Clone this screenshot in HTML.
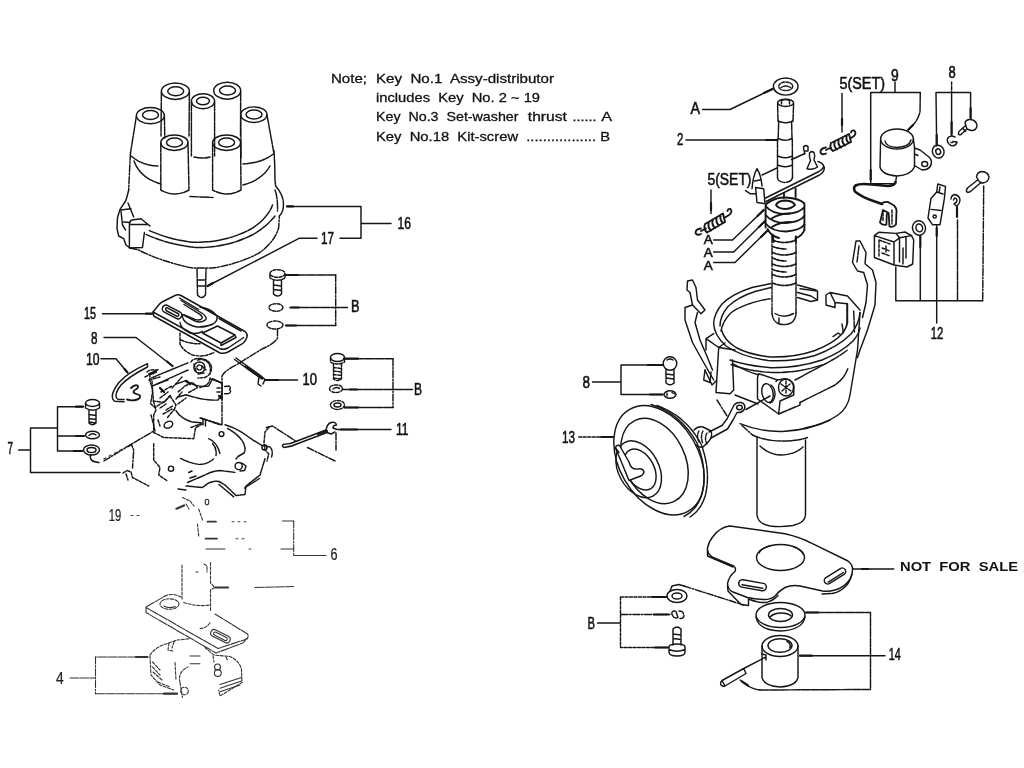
<!DOCTYPE html>
<html><head><meta charset="utf-8"><title>Distributor</title>
<style>
html,body{margin:0;padding:0;background:#fff;overflow:hidden}
svg{display:block;filter:grayscale(1)}
text{font-family:"Liberation Sans",sans-serif;fill:#111;stroke:none}
.d{stroke-dasharray:7 1.6 1.6 1.6}
.b{stroke-dasharray:9 1.2}
.s{stroke-dasharray:3 1.5}
.f{stroke-dasharray:2 4;stroke:#444}
.t{stroke-width:2.2}
.n text{font-size:16px;stroke:#111;stroke-width:.55px}
.nt text{stroke:#111;stroke-width:.3px}
.n2 text{stroke-width:.2px;fill:#222}
</style></head><body>
<svg width="1024" height="768" viewBox="0 0 1024 768">
<rect width="1024" height="768" fill="#fff"/>
<g style="font-size:13.5px;stroke:#111;stroke-width:.3px" class="nt">
<text x="331" y="83" textLength="36" lengthAdjust="spacingAndGlyphs">Note;</text>
<text x="376" y="83" textLength="178" lengthAdjust="spacingAndGlyphs" xml:space="preserve">Key  No.1  Assy-distributor</text>
<text x="376" y="102" textLength="164" lengthAdjust="spacingAndGlyphs" xml:space="preserve">includes  Key  No. 2 ~ 19</text>
<text x="376" y="121" textLength="142.5" lengthAdjust="spacingAndGlyphs" xml:space="preserve">Key  No.3  Set-washer</text>
<text x="527.8" y="121" textLength="39" lengthAdjust="spacingAndGlyphs">thrust</text>
<text x="572.5" y="121" textLength="24" lengthAdjust="spacingAndGlyphs">......</text>
<text x="601.2" y="121" textLength="10.8" lengthAdjust="spacingAndGlyphs">A</text>
<text x="376" y="140.5" textLength="234" lengthAdjust="spacingAndGlyphs" xml:space="preserve">Key  No.18  Kit-screw  ................. B</text>
</g>
<g fill="none" stroke="#161616" stroke-width="1.45" stroke-linecap="round" stroke-linejoin="round">
<!-- CAP 16 -->
<ellipse cx="175.4" cy="91.2" rx="14" ry="8.2"/><ellipse cx="175.7" cy="91.2" rx="8" ry="4.5"/>
<ellipse cx="203" cy="101.2" rx="11.6" ry="7.5"/><ellipse cx="203" cy="101" rx="6.5" ry="3.8"/>
<ellipse cx="227.2" cy="90.7" rx="13.5" ry="8.5"/><ellipse cx="227.5" cy="90.5" rx="8" ry="4.5"/>
<ellipse cx="150.4" cy="115.6" rx="14" ry="8.1"/><ellipse cx="150.5" cy="115" rx="8" ry="4.5"/>
<ellipse cx="253.9" cy="114.7" rx="13.1" ry="7.8"/><ellipse cx="254" cy="114.5" rx="8" ry="4.5"/>
<ellipse cx="174.4" cy="142.7" rx="13.6" ry="7.7"/><ellipse cx="174.5" cy="142.5" rx="8" ry="4.5"/>
<ellipse cx="226.6" cy="142.7" rx="14" ry="7.7"/><ellipse cx="226.6" cy="142.5" rx="8" ry="4.5"/>
<path class="b" d="M161.4 92L161 136M189.4 92L189 136M191.4 102L191.4 156M214.6 102L214.6 156M194 157Q203 159 210 157M240.7 92L240.5 136M136.4 116L130.5 153M164.4 116L164.8 138M240.8 118L241 158M267 115L273.7 152"/>
<path class="b" d="M160.8 143L160.8 190Q175 198 189 190L188 143M212.6 143L212.6 190Q227 198 241 190L240.6 143"/>
<path class="b" d="M131 156Q143 166 158 166M134 161Q140 178 161 184M273.7 153.7Q262 163 243 164M270 166Q262 180 243 185M190 196.5L213 197.5"/>
<path class="d" d="M130.5 153C129.500 170 129 182 128.700 190"/>
<path d="M128.700 190C127.500 195 126.500 199 125.600 201L120 209.400L117.500 217.500L117 228.700L118.700 236L123.700 238.700L126 245L130 248"/>
<path d="M120.600 210L131 208.700M128 203L133.700 217M121 211L122.500 225L125.600 230M123.700 222L130 222.500"/>
<path d="M129.400 223.700Q130 220.500 132 220L141 218.700L150 226M130 224.400L147.500 224.400M129.400 223.700L129.400 248M144.400 232.500L142.500 247.500M130 248L142.500 247.500"/>
<path d="M274 151C275 165 275 175 275 180L275.600 186C280 191 283.500 198 283.500 204C283.500 210 281.500 214 279.400 216"/>
<path class="b" d="M275 190C277 195 277.800 203 277.500 211"/>
<path class="b" d="M149.400 230.600C162 236 178 241.500 196 242.300C215 242.500 234 238 250 229.500C262 222.500 270 213 272.500 205"/>
<path class="b" d="M146 234.400C158 240 176 245.500 196 247.500C216 248 236 243.500 254 234C264 228 271 221 275 216"/>
<path class="d" d="M130 248L138.700 250C152 257 172 264 192.500 268L212.500 268C228 266 246 260 258 253.700C268 247 276 238 278.700 227.500L279.400 216"/>
<path class="b" d="M197 268.500L197.500 295Q201.500 300 205.500 295L206 268.500M197.500 280L205.500 280M197.500 286L205.500 286"/>
<!-- leaders 16/17 -->
<path d="M287 206.4L361 206.4L361 238.2L340 238.2M361 223.4L391 223.4M317 238.2L299.5 238.2L207.5 286"/>
<path class="t" d="M287 206.4L293 206.4M207.5 286L213 283"/>
</g><g class="n">
<text x="397.5" y="229" textLength="13.5" lengthAdjust="spacingAndGlyphs">16</text>
<text x="321" y="243.5" textLength="13" lengthAdjust="spacingAndGlyphs">17</text>
</g><g fill="none" stroke="#161616" stroke-width="1.45" stroke-linecap="round" stroke-linejoin="round">

<!-- ROTOR 15 -->
<path d="M153 312L158.7 305Q160 303 163 301.5L175 295.5Q178 294 181 295.5L245 331.5Q248 334 247 337Q246 341 242.5 343.7L228 352Q224 354 220 353L153.7 316Z"/>
<path d="M153 312L220 348.7Q224 350 228 348L243.700 337.500"/>
<path d="M179.500 298L198.700 309.500"/>
<g transform="rotate(28 172 312)"><rect x="161.500" y="308.300" width="21" height="7.400" rx="3.700"/><rect x="165" y="310.500" width="14.500" height="3" rx="1.500"/></g>
<path d="M182.500 314.400L195 321Q199 322.500 202.500 321.500Q207 320 206 317.500Q205 315 202.500 313.500L192.500 307.500L181 300.500"/>
<path d="M184.400 315L195 319.400Q199 320.500 201 319.400Q204 318 200 314.400L184 304.500"/>
<path d="M200 307Q212 309 217 316Q218 321 213 324Q206 327.500 197 327Q188 325.500 183.700 320Q182 317 182.500 315"/>
<path d="M180 322.500Q181 329 190 333Q197 334.500 202.500 331.500"/>
<path d="M202.500 333L217.500 326L235 335L221 343ZM221 343L221 345.500L236 337.500L235 335"/>
<path d="M219 318.500L241 331"/>
<path class="s" d="M180 333L180 343.700Q182 350 192.500 355Q200 356.500 205 355.600Q210 354.500 213.700 352.500M181 340Q190 344 200 343.700"/>
<!-- leader 15, 8, 10(left) -->
<path d="M102.5 313.7L152.5 313.7M104 337.5L136 337.5L172.5 366M101 358.7L116 358.7L127.5 372.5"/>
<path class="t" d="M146 313.7L152 313.7M167 361.5L172.5 366M124.5 369L127.5 372.5"/>
<!-- clip 10 -->
<path d="M147.500 363.700Q127 373 118.500 383Q112 392 112.300 396.500Q112.500 400.500 115 401.300L124 401.700M147.500 367Q129 376.500 121 385Q116 391.500 116 395.600Q116 398.500 118 399.400L124 399.500M147.500 363.700L147.500 367"/>
<path stroke-width="1.8" d="M127 399.500L131 400.300Q137 400.500 139.500 398Q141.500 395.500 138 394.500Q134 393.500 133.400 392Q134 390 136.500 389Q139 387 137.500 385.500Q134.500 384.500 131 388"/>
<!-- 7 group -->
<ellipse cx="92.5" cy="403" rx="7" ry="3.5"/>
<path d="M85.5 403.5L85.5 408Q92.5 412.5 99.5 408L99.5 403.5M89 410.5L89 423Q92.5 426.5 96 423L96 410.5M89 414.5L96 415.5M89 418.5L96 419.5M89 422L96 423"/>
<ellipse cx="92.5" cy="435" rx="7" ry="3.8"/><path d="M89 435.5Q92 432.5 96 435"/>
<ellipse cx="91.5" cy="450" rx="8" ry="5"/><ellipse cx="91.5" cy="450" rx="4.5" ry="2.5"/>
<path d="M82 406.7L57.5 406.7L57.5 451L82 451M57.5 436L83 436M57.5 428L30.5 428L30.5 472.5L120 472.5M18.7 450L30.5 450"/>
<path class="t" d="M76 406.7L83 406.7M76 436L84 436M74 451L82 451"/>
<path d="M90.5 455Q89 462 99 462.5"/><path class="d" d="M104 461L130 445L153 431.5"/>
<!-- B group 1 -->
<ellipse class="s" cx="277.5" cy="273.5" rx="7.5" ry="3.8"/>
<path class="b" d="M270 274L270 278Q277.5 282.5 285 278L285 274M273.5 280.5L273.5 294Q277.5 298 281.5 294L281.5 280.5M273.5 285L281.5 286M273.5 289.5L281.5 290.5"/>
<ellipse class="s" cx="276" cy="307.5" rx="7" ry="3.8"/>
<ellipse class="s" cx="275" cy="325" rx="8" ry="4"/>
<path class="b" d="M286 275L335.7 275M335.7 325.5L286 325.5M290 307.5L347.5 307.5"/><path class="d" d="M335.7 275L335.7 325.5"/>
<path class="t" d="M286 275L298 275M286 325.5L296 325.5M291 307.5L299 307.5"/>
<path class="d" d="M277.5 329L277.5 338Q274 344 262 349L237 364.5Q224 371 222 376L222 425"/>
<!-- wire 10 right -->
<path d="M234.5 359.5L259 377M236 358L260.5 375.5M259 377L258 384L261 386M260.5 375.5L265 379.5L263 384"/><path class="t" d="M246 367L262 378.5M265 380L278 380"/>
<path d="M266 380L297.5 380"/>
<!-- B group 2 -->
<ellipse cx="337.5" cy="357.5" rx="7" ry="4"/>
<path class="s" d="M330.5 358L330.5 362Q337.5 366 344.5 362L344.5 358M333.5 364L333.5 379Q337.5 382 341.5 379L341.5 364M333.5 367.5L341.5 368.5M333.5 371L341.5 372M333.5 374.5L341.5 375.5M333.5 378L341.5 379"/>
<ellipse class="s" cx="336" cy="388.7" rx="6.5" ry="3.8"/><path d="M333 389Q336 386.5 339.5 388.5"/>
<ellipse class="s" cx="337.5" cy="405" rx="7" ry="4.5"/><ellipse cx="337.5" cy="405" rx="3.5" ry="2"/>
<path class="b" d="M344 358.7L393 358.7M393 407.5L344 407.5M343 389.5L412.5 389.5"/><path class="d" d="M393 358.7L393 407.5"/>
<path class="t" d="M344 358.7L358 358.7M345 407.5L358 407.5M350 389.5L357 389.5"/>
<!-- 11 -->
<path d="M340 429.5L391 429.5M326 430L297 441Q290 444.500 283 444.500M327 432.500L298 443.500Q291 447 284 447.500Q281.500 446 283 444.500"/>
<path d="M326 430Q327 424 331 422.5Q336 421.5 336.5 425Q333 425 333 428L337 429.5L340 429.5M327 432.5L331 434L335 432"/>
<path class="t" d="M341 429.5L357 429.5M318 434L327 431"/>
<path class="d" d="M336 433L336 450M307.5 447.5L335 461"/>
</g><g class="n">
<text x="84" y="318.9" textLength="12" lengthAdjust="spacingAndGlyphs">15</text>
<text x="91" y="343.9" textLength="6.5" lengthAdjust="spacingAndGlyphs">8</text>
<text x="86" y="364.7" textLength="13.5" lengthAdjust="spacingAndGlyphs">10</text>
<text x="7.5" y="454" textLength="5.5" lengthAdjust="spacingAndGlyphs">7</text>
<text x="351" y="312.3" textLength="8.5" lengthAdjust="spacingAndGlyphs">B</text>
<text x="302.5" y="385.2" textLength="14.5" lengthAdjust="spacingAndGlyphs">10</text>
<text x="414" y="395.2" textLength="8" lengthAdjust="spacingAndGlyphs">B</text>
<text x="396" y="435.2" textLength="12.5" lengthAdjust="spacingAndGlyphs">11</text>
</g><g fill="none" stroke="#161616" stroke-width="1.45" stroke-linecap="round" stroke-linejoin="round">

<!-- BREAKER PLATE -->
<path class="b" d="M151.6 377.8L188 362.8M152.5 386L188 370"/>
<circle cx="199.4" cy="367.5" r="5.5"/><circle class="s" cx="199.4" cy="367.5" r="2.6"/>
<path class="s" d="M191 362Q193 358 201 358.5Q210 360 211.5 367Q212 374 205 377.5L198 378"/>
<path class="s" d="M148.7 374L157 370M149.7 374L150 381L152.5 389L153.4 401L164 402.5L170 395.6M149 380L160 377M157 384L168 380M161 392L172 386"/>
<path class="b" d="M186 380.6Q197 388 208.7 386Q211 382 212.5 378.7L222 383.4M186 394.7Q205 401 218 400L222 393.7M176 384L186 380.6M178 397L186 394.7"/>
<path d="M224.7 386.5L229 386Q231.5 387.5 229.5 389.5Q232 391.5 229 393.5L224.7 393.7"/>
<path class="s" d="M222 383L222 400M217 388L222 388M217 392L222 392"/>
<path class="s" d="M170 396L176 405L174 410.6M153.4 401L156 410L153.7 415L153.7 432.5L163.7 437.5L193.7 438.7L195.5 428L202.5 423.7"/>
<path class="b" d="M176 410.6Q180 418 192 422L201 422.8"/>
<path class="s" d="M160 408L166 404M163 414L172 409M158 420L160 426"/>
<ellipse cx="168.4" cy="424.7" rx="4.5" ry="3.2" transform="rotate(-25 168.4 424.7)"/>
<path class="d" d="M201 418L222 424.7"/>
<path d="M203 419L203 425M205.5 420L205.5 426"/>
<path class="b" d="M225 424.7Q236 428 245 434.5T263 446"/>
<path class="b" d="M227.5 428.4Q238 434 243 442Q246.5 449 244 453L238 456.5L236 459"/>
<circle cx="221.5" cy="434" r="2.4"/>
<path class="b" d="M208.7 438.7Q217 442 220 453.7M212.5 443.4Q217 448 216 455.6"/>
<path class="b" d="M180.6 458.4Q190 463.5 200 464.5Q208 464 213.5 459"/>
<path class="s" d="M153.7 443.7L153.7 460L160 467.5L158.7 475L167.5 481"/>
<circle cx="171" cy="468.7" r="2.6"/>
<circle cx="238.7" cy="466" r="3.6"/><path d="M242 463L246 466L244.5 470.5L240 471"/>
<path class="b" d="M187.5 482.5L205 475Q212 471 220 470.5L236 472.5"/>
<path class="b" d="M186 486L202.5 487.5L207.5 483.7Q213 480.5 219 481.5L225 485L236 495.5L245 494.5L246 486L260 475L265 458.7"/>
<path class="b" d="M188.7 472.5L192 471M178 489L186 490M190 478L196 476"/>
<path class="s" d="M268.7 427.5L265 432L264 442.5L265 450L268.7 453.7L267 461"/>
<circle cx="264.5" cy="447.5" r="2.5"/>
<path class="d" d="M266.5 427.5L272.5 426L295 440.6"/>
<path class="f" d="M104 459L128 446"/>
<path class="d" d="M128 446.5L131.5 444.5L133.7 450L132.5 468"/>
<path class="s" d="M123 473L127 470.5L131 472L132.5 477.5L148.7 486M126 474L128 480"/>
<path class="b" d="M219 484.500L234.500 497.500M244.500 488L259.500 478.500M266 447Q270 445.500 271.500 449Q273 453 271.500 457"/>
<!-- extra breaker detail -->
<path class="s" d="M145 377L151 373.700L158 369.500M147 372Q150 369 156 370M152 381L152.500 392.500L150.600 403.700L155 407.500L165 401L170 396M188.700 392.500L197.500 387.500L192.500 382.500L185 386L178 392M172 388L182 377M166 410L172.500 406M167.500 417.500L173.700 410M160 398L168 392M176 399L182 392M178 404L186 398"/>
<path class="s" d="M197.500 360Q203 358.500 207.500 362Q211.500 366 210 373.700M210 378Q210 385 200 387.500M211 379L221 382.500M194 364L196 371M202 366L206 370M198 374L204 373"/>
<path class="t s" d="M151 374L156 372M219 396L222 399M186 381L190 384M160 388L164 392"/>
<path class="s" d="M151 415L153 422.500L155 431M191 427.500L197.500 425L201 423.700M200 418L221 425"/>
<g stroke="#333" stroke-width="1.1"><!-- 19 region -->
<path class="t" d="M176.5 508.7L184 505.5"/>
<path class="s" d="M182.5 497.5L189 500.5M190 501L194 506M186 504L189 509"/><ellipse cx="207" cy="502" rx="1.8" ry="2.8"/>
<path class="s" d="M198.7 509L202.5 520M197.5 524L198.7 536"/>
<path class="f" d="M131 515.5L143 515.5"/>
<!-- 6 group -->
<path d="M282.5 521L293.7 521M293.7 555.5L326 555.5M281 549L293.7 549"/><path class="d" d="M293.7 521L293.7 555.5"/>
<path stroke-width="1.7" d="M207.5 521.7L216 521.7M205.5 538.7L217 538.7"/>
<path d="M206 549L225 549"/><path class="f" d="M232 521.7L248 521.7M236 538.7L244 538.7M249 549L254 549"/>
<path class="t" d="M215.5 587.5L228 587.5"/><path class="b" d="M255 587.5L293.7 586.5"/>
<!-- shaft + plate + weights 4 -->
<path class="s" d="M182 565L182 599M210.5 562.5L210.5 583L215 587.5L210.5 590L210.5 611M183.7 602.5Q197 607 210 605"/>
<path class="s" d="M204 564L207 566L207 572M196 572L198 572"/>
<path class="b" d="M146 607L165 596M215 614L247.5 634Q249 637 247 639L218 648.5L146 607.5M146 607L146 612.5L216 653L243 643L248 637"/>
<path class="s" d="M165 596Q170 593.5 176 595L181 597"/>
<ellipse class="s" cx="169.5" cy="604" rx="9.5" ry="5.2"/><path d="M164 606Q169 609 175 606.5"/>
<g transform="rotate(27 220 636)"><rect x="210" y="632.5" width="21" height="7" rx="3.5"/><rect x="213" y="634.5" width="15" height="3.2" rx="1.6"/></g>
<path class="s" d="M200 628.7Q207 628 210.5 622"/>
<path class="s" d="M150 655Q155 648 163 645L177.5 640L190 638.7M150 656L151 675L160 685L173.7 690M152.5 662L160 670M152.5 667L160 675M153 672L162 680M158 682L170 687"/>
<path class="s" d="M169 643L168 650L173 651M174 642L172 648"/>
<path class="s" d="M175 662.5L176 680M180 682.5Q178 676 183 670L188 667M180 682.5L182.5 697.5"/>
<path d="M190 656L200 656M190 663.7L200 663.7"/>
<circle class="s" cx="184.5" cy="691" r="3.8"/>
<path class="s" d="M205 647.5L213.7 655L230 656.5Q240 661 241.5 670L242 682.5L220 696L218.7 690"/>
<path d="M220 684.5L241.5 677.5M220 688.2L241.5 681M220 691.8L240 685"/>
<circle cx="217.5" cy="667" r="3"/><circle cx="217.8" cy="673" r="3.4"/>
<path class="s" d="M213 656L214 662M226 657L228 661"/>
<!-- 4 bracket -->
<path class="b" d="M147.5 657L95.5 657M95.5 693.7L177.5 693.7M70 678L95.5 678"/><path class="d" d="M95.5 657L95.5 693.7"/>
<path class="t" d="M136 657L147.5 657M164 693.7L177 693.7"/>
</g></g><g class="n n2">
<text x="108.7" y="521" textLength="12.5" lengthAdjust="spacingAndGlyphs">19</text>
<text x="330.5" y="560.2" textLength="7" lengthAdjust="spacingAndGlyphs">6</text>
<text x="56" y="683.9" textLength="7.7" lengthAdjust="spacingAndGlyphs">4</text>
</g><g fill="none" stroke="#161616" stroke-width="1.45" stroke-linecap="round" stroke-linejoin="round">

<!-- WASHER A top -->
<ellipse cx="785.7" cy="86.5" rx="12.300" ry="8.600"/><ellipse class="s" cx="785.7" cy="86.3" rx="7" ry="4.300"/><path d="M781 87.5Q785.7 84.5 790.5 87.5"/>
<path d="M702.5 109.5L730 109.5L772.5 89"/><path class="t" d="M764 93L772.5 89"/>
<!-- shaft 2 -->
<ellipse cx="785.6" cy="102.8" rx="8" ry="3.6"/><path d="M781.500 104L781.500 100.500Q785.500 98.500 789.500 100.500L789.500 104"/>
<path class="b" d="M777.600 103.700L778 120.500M793.600 103.700L793 120.500M778.700 121.500L778.200 138M791.600 121.500L792 138M777.500 139L777.500 178M792.300 139L792.500 178"/>
<path class="b" d="M778 121Q785.500 124.500 793 121M778.200 138.500Q785 142 792 138.500M777.500 156Q785 159.500 792.500 156M777.500 165Q785 168.500 792.500 165"/>
<path d="M686 140L777.5 140"/><path class="t" d="M766 140L777.5 140"/>
<!-- plate -->
<path d="M762 175L777 168M791.5 159.5L805 153.5M765.6 198L819 171.5Q824 168.5 823.5 165.5Q822 162.5 818 161.5M766 201.5L819.5 175Q824.5 172 824.4 167"/>
<path class="b" d="M777.5 178Q778 182 785 182.5Q791.5 182 792.5 177.5"/>
<path d="M752 188.7Q753 176 757 168.7Q761 175 762 186M754.5 181L760 180M755.6 187.5L763.7 188.7L765 203.7L757 202.5ZM745.6 190.6L750 193.7L755.5 193.7"/>
<path d="M809.5 153Q811.5 150.5 814 152.5Q815.5 156 814 160L817.5 167Q813 170.5 807 168.7L810.5 160.5Q809 157 809.5 153Z"/>
<path d="M803.5 147Q805.5 144.5 808 146.5L808 151L804 151ZM804.5 151L804.5 154"/>
<!-- 5(SET) top + spring -->
<path d="M842 93.5L842 132"/><path class="t" d="M842 119L842 125"/>
<path stroke-width="1.8" d="M826 147.5Q820 148.5 820.5 152.5Q822 155.5 826 153.5"/>
<path stroke-width="1.9" d="M831 143Q829 148 833 151M835 141Q833 146.5 837 149.5M839 139Q837 144 841 147.5M843 137Q841 142 845 145.5M847 135Q845 140 849 143M831 143L849 134M833 151L851 142M826 150L831 147.5M849 134L851 142"/>
<path stroke-width="1.8" d="M851 138L854 136Q857 133 854 130.5Q851.5 130 851 132.5"/>
<!-- 5(SET) lower + spring -->
<path d="M711 190L711 213.5"/><path class="t" d="M711 203L711 210"/>
<path stroke-width="1.8" d="M701 228.5Q695.5 229 695.5 233Q697 236 701 234"/>
<path stroke-width="1.9" d="M705 224Q703 229 707 232.5M709 222Q707 227 711 230.5M713 219.5Q711 224.5 715 228M717 217Q715 222 719 225.5M721 214.5Q719 219.5 723 223M705 224L723 213.5M707 232.5L725 222M701 231L706 228.5M723 213.5L725 222"/>
<path stroke-width="1.8" d="M725 217.5L729 215Q733 212 730.5 209Q728 208.5 727.5 211"/>
<!-- A leaders -->
<path d="M713.7 240L732.5 240L763.7 210M713.7 252L733.7 252L765 221M713.7 262.5L735 262.5L767 231"/>
<path class="t" d="M757.5 216L763.7 210M759 227L765 221M761 237L767 231"/>
<!-- cam -->
<path stroke-width="1.9" d="M784 193.7L784 198M795.6 188.7L795.6 197"/>
<path stroke-width="1.9" d="M771 201Q778 197 786 197.5Q800 198.5 804.4 203.5L804.4 230M765.6 206L765.6 227.5M771 201Q766 203 765.6 206Q772 214 786 214Q800 213 804.4 207"/>
<path stroke-width="1.9" d="M776 205Q778 200.5 786 200.5Q793 201 795 205Q791 209 785 209Q778 208.5 776 205"/>
<path stroke-width="1.9" d="M765.6 215Q772 223 786 223Q800 222 804.4 216M765.6 223.5Q772 231.5 786 231.5Q800 230.5 804.4 224.5M767.5 229Q771 236 779 238M804.4 230Q802 236 796 238"/>
<path stroke-width="1.9" d="M771.5 218.5Q779 213.5 790 213.5M772 227Q779 222 791 222"/>
<path stroke-width="1.9" d="M772.5 235L773.7 242M795.6 237L795.8 242"/>
<!-- lower shaft with rings -->
<path class="d" d="M772 236L772 314"/><path class="b" d="M796 236L796 313"/>
<path class="s" stroke-width="1.7" d="M772.500 240Q784 245 796 240M772.500 252.500Q784 257.500 796 252.500M772.500 264Q784 269 796 264M772.500 274.500Q784 279.500 796 274.500M772.500 283Q784 288 796 283M772.500 246.500Q779 249 786 249M772.500 258Q779 261 786 261M772.500 269.500Q779 272 786 272"/>
<path d="M772 314Q773 321 778 323.500Q785 326 791 323Q796 319.500 796 313M775 313.500Q784 319 793.500 313.500M779 318L779 323.500"/>
</g><g class="n">
<text x="690.5" y="113.9" textLength="9.5" lengthAdjust="spacingAndGlyphs">A</text>
<text x="677" y="145.2" textLength="6.3" lengthAdjust="spacingAndGlyphs">2</text>
<text x="839.5" y="88.8" textLength="45.5" lengthAdjust="spacingAndGlyphs">5(SET)</text>
<text x="707.5" y="185.2" textLength="44" lengthAdjust="spacingAndGlyphs">5(SET)</text>
<text x="703.7" y="244.2" textLength="9" lengthAdjust="spacingAndGlyphs" style="font-size:13px">A</text>
<text x="703.7" y="256.7" textLength="9" lengthAdjust="spacingAndGlyphs" style="font-size:13px">A</text>
<text x="703.7" y="269.5" textLength="9" lengthAdjust="spacingAndGlyphs" style="font-size:13px">A</text>
</g><g fill="none" stroke="#161616" stroke-width="1.45" stroke-linecap="round" stroke-linejoin="round">

<!-- 9 leader + condenser -->
<path d="M895 82L895 92.4M870.7 92.4L920.3 92.4M870.7 92.4L870.7 183.6"/>
<path class="b" d="M920.3 92.4L920 112Q918 120 913 125L908 130"/><path class="t" d="M913 125L908.5 129.5M870.7 170L870.7 180"/>
<ellipse cx="897" cy="139" rx="16.4" ry="10"/>
<path d="M885 141Q886 147 897 147.5Q909 147 911 140"/>
<path d="M880.6 140L880 167Q882 175 897 176Q911 175 914.5 167L914.5 147M913.4 139L914.5 147"/>
<path d="M914.5 148L920 150L929 157Q933 161 930.5 166Q928 170 922 170L914.5 165.5M914.5 154L918 155.5"/>
<ellipse cx="924.7" cy="164" rx="3" ry="2.6"/>
<path d="M896.5 176.5L895.5 183"/>
<path stroke-width="2.6" d="M895.500 182Q895 185.500 888 186L872 184.500Q860 183 855.500 185.500Q852.500 188.500 855.500 192Q862 197 872 200.500L882 204"/>
<path d="M895.5 183.6L870.7 183.6"/>
<path stroke-width="1.8" d="M881 204Q884 201.500 888 202L894 205.500Q896.500 208 896.500 211L896 224.500Q893 228 889.500 226.500L888.600 213L883 210L880 222.500Q882 225.500 886.400 224.700L886.800 214"/>
<path class="s" d="M883 213L883 221M892 210L892 224"/>
<!-- 8 top right -->
<path class="s" d="M951.6 82L951.6 92.4"/>
<path d="M936 92.4L970.6 92.4M936 92.4L936.7 146M951.6 92.4L951.6 135.5M970.6 92.4L970.6 119"/>
<path class="t" d="M936.7 135L936.7 145M951.6 122L951.6 134M970.6 108L970.6 118"/>
<ellipse cx="938.2" cy="151.6" rx="5.8" ry="6.5" transform="rotate(-20 938.2 151.6)"/><ellipse cx="938.2" cy="151.6" rx="2.4" ry="2.8" transform="rotate(-20 938.2 151.6)"/>
<path d="M955 137Q950 134.5 947.5 138.5Q946.5 143 951 145.5Q956 146.5 957 142L953 141.5Q952.5 143 951 142.5"/>
<path d="M965 123Q966 119 971 119.5Q977 121 977 126Q976 131 971 130.5L967 129ZM967 129L962 133.5Q960 136 958.5 134Q958 132 960 130.5L965 126M963 128.5L965.5 131.5"/>
<!-- screw right lower -->
<path d="M976.5 177Q977 172 982 171.5Q988 172 989 177Q988.5 182 983 183L979.5 182ZM977.5 180L967.5 188Q965.5 190.5 967 192Q969 193 971 191L981 182.5"/>
<path class="d" d="M983.7 186L982.7 300.8"/>
<!-- hook -->
<path d="M951 199Q951.5 195 955 194.5Q959.5 195.5 960 200Q959.5 204.5 956.5 206L954 204Q957 202.5 957 200Q956.5 198 954.5 198L953.5 200"/>
<path class="t" d="M957 207L957 217"/><path class="b" d="M957.5 220L957.5 300.8"/>
<!-- clip -->
<path d="M937.8 184L945.5 186.4L944.4 198.4L940 224.7L932.4 224.7L928 218L931 198.4L936.7 192Z"/>
<path d="M931 209.4L941 210.5M936.7 192L943 194M940 187L939 192.5"/><circle cx="934.7" cy="216.5" r="1.6"/>
<path d="M936.7 225.8L936.7 323"/><path class="t" d="M936.7 228L936.7 236"/>
<!-- washer 12 -->
<ellipse cx="919" cy="228" rx="6.5" ry="7.3" transform="rotate(-15 919 228)"/><ellipse cx="919.3" cy="228" rx="3.3" ry="4" transform="rotate(-15 919 228)"/>
<path class="t" d="M920.3 236L920.3 247"/><path d="M920.3 247L920.3 300.8"/>
<!-- terminal block -->
<path d="M874.4 235.6L894 242L894 265L874.4 257.5ZM874.4 235.6L878.7 232.3L896 233.4L899.5 237.8L894 242M899.5 237.8L911.6 235.6L913.7 240L912.7 264L907 267L894 265M896 233.4L905 232L911.6 235.6"/>
<path d="M899.5 238L899.5 262M906 237L906 258M903 248L903 264"/>
<path class="s" d="M879 240L879 256M879 240L890 244M882 248L890 251M882 253L890 256M886 246L886 252"/>
<!-- 12 bracket -->
<path d="M895.8 267L895.8 300.8L982.7 300.8"/>
</g><g class="n">
<text x="891" y="81" textLength="7.7" lengthAdjust="spacingAndGlyphs">9</text>
<text x="948.5" y="77.7" textLength="7.2" lengthAdjust="spacingAndGlyphs">8</text>
<text x="930.8" y="338.5" textLength="12.5" lengthAdjust="spacingAndGlyphs">12</text>
</g><g fill="none" stroke="#161616" stroke-width="1.45" stroke-linecap="round" stroke-linejoin="round">

<!-- HOUSING rim -->
<path d="M713.7 323Q714 314 722 304Q732 294 752 287.5L771 283.5M797.5 285L816 290"/>
<path d="M720 326Q720 316 728 306.5Q738 297 755 291.5L771 287.5M797.5 292.5L811 296L817.5 300"/>
<path class="b" d="M721 331Q723 320 732 312Q745 303 770 298.7"/>
<path d="M800 288.7L817.5 291L817.5 300L811 301.5L797.5 297.5"/>
<path d="M826 305L826 295L830 292.5L847.5 296L860 310M826 305L835 307.5L835 302.5L830 292.5M835 302.5L847.5 303.7L847.5 322.5"/>
<path d="M713.7 323.7Q714 335 726 346Q742 357 768 360.5Q792 362 815 355.5Q838 347 851 334Q859 324 860 312.5"/>
<path d="M730 360Q748 366 771 367.7Q798 368 822 360Q842 352 853 341Q859 334 860 328"/>
<path class="b" d="M731 364.5Q748 371 772 372.5Q798 373 822 365"/>
<path d="M721.5 330Q724 340 736 347.5Q750 355 771 357Q795 357.5 815 350.5Q834 343 842 334Q846.5 328 847.5 322.5"/>
<path class="b" d="M847 303.5L847 324M853.7 311L854.5 332M842 324L843.5 334M833 336.600L838 333L841 335"/>
<!-- left notch -->
<path d="M713.7 333.7L706 338.7L718.7 347.5L735 350M706 338.7L706 350M718.7 347.5L716 392.5L730 393.7L733.7 390L732.5 360"/>
<path class="b" d="M725 343L718.7 347.5"/>
<!-- body -->
<path d="M860 312.5L857.5 350L852.5 380L850 395Q848 408 838 415Q825 424 805 428"/>
<path class="b" d="M795 380L825 364Q840 356 847.5 350M800 402.5L835 385Q845 378 848 368"/>
<path d="M735 395L758 404"/>
<!-- boss -->
<path d="M758.7 373.7L777.5 380L785 378.7Q793 380 794 386L793.7 395L780 401L778.7 414L757.5 399L757.5 377.5L758.7 373.7M777.5 380L776 381.5"/>
<path d="M733.7 364Q745 371 757.5 374.5"/>
<ellipse cx="767.5" cy="393" rx="5.5" ry="9.5" transform="rotate(-12 767.5 393)"/>
<path d="M771 385Q775 388 775 395Q774 402 770 403"/>
<ellipse cx="786" cy="387.5" rx="7.5" ry="8.5"/><path class="s" d="M781 384L791 391M786 381L786 394M782 391L790 384"/>
<path class="b" d="M778.7 414L800 405L800 402.5"/>
<!-- bowl bottom -->
<path d="M740 423.7Q760 432 782.5 431.5Q810 430 830 420"/>
<path class="b" d="M752.5 435Q765 441 782.5 441Q798 441 807.5 437.5"/>
<path class="d" d="M742 425.5L752.5 435"/>
<!-- lower shaft -->
<path d="M757 437L757 515Q758 524 770 526Q781 527.5 793 525.5Q805 523 805.5 515L805.5 440"/>
<path class="b" d="M760 446Q770 455 781 455Q795 454.5 803 447"/>
<!-- left clip -->
<path d="M687.5 281L692.5 280L696 287.5L697.5 300L705 310L701 313.7L692.5 305L690 292.5L687 290Z"/>
<path d="M692.5 305L685 307.5L685 320L692.5 342.5L705 365L713.7 380M697.5 312.5L695 322.5L700 340L707.5 357.5L712.5 370"/>
<path d="M705 370L703.7 380L710 382.5L711 372"/>
<!-- right clip -->
<path d="M856 241L860 241L866 252.5L865 263.7L872.5 270L876 282.5L875 305L867.5 330L860 350L857.5 357.5M856 241L852.5 262.5L857.5 271L863.7 272.5L867.5 285L866 302.5L862.5 317.5"/>
<path class="b" d="M859 246L857 262"/>
<!-- B group housing left -->
<circle cx="670" cy="363.5" r="6.8"/>
<path class="b" d="M666 369.5L666 383Q670 386.5 674 383L674 369.5M666 374L674 375M666 378L674 379"/><path d="M667 360Q670 358 673 360"/>
<ellipse cx="670" cy="394.5" rx="6" ry="3.8"/><path d="M667 393L667 396M672 392.5L674.5 394"/>
<path d="M662.5 365L621 365L621 394.5L662.5 394.5M592.5 382L621 382"/>
<path class="t" d="M648 365L662.5 365M650 394.5L662.5 394.5"/>
</g><g class="n">
<text x="582.5" y="387.7" textLength="7.5" lengthAdjust="spacingAndGlyphs">8</text>
</g><g fill="none" stroke="#161616" stroke-width="1.45" stroke-linecap="round" stroke-linejoin="round">

<!-- VACUUM 13 -->
<ellipse cx="659" cy="460.3" rx="39.6" ry="58.7" transform="rotate(-30 659 460.3)"/>
<path d="M651 404.500Q680 413 697 443Q708 470 702 494Q697 510 684 516.500"/>
<path class="b" d="M657 405.500Q686 416 701 444Q711 470 705.500 495Q701 510 690 517"/>
<ellipse cx="654.5" cy="461" rx="30.5" ry="45" transform="rotate(-26 654.5 461)"/>
<ellipse cx="638.7" cy="469.3" rx="20.2" ry="30.3" transform="rotate(-28 638.7 469.3)"/>
<ellipse cx="640" cy="469.5" rx="14" ry="22" transform="rotate(-28 640 469.5)"/>
<path d="M615.5 448Q616 444.500 619.5 445.5L629 462Q631 470 638 469Q643 468 644 472Q643 476 638 477L629 480.500L621 461Z" fill="#fff"/>
<path d="M615.5 448L619 452.500"/>
<path class="s" d="M578.7 437L600 437"/><path class="t" d="M601 437L613 437"/>
<!-- rod -->
<path d="M694 430Q698 426 703 427L711 431Q713 436 709 441L703 447Q699 448 696 445"/>
<path class="s" d="M699 431Q696 436 699 442M703 431Q700 436 703 444M707 433Q704 438 707 444"/>
<path d="M709 432L722 425.5L727 419L733 407Q735 402 741 402.5Q746 404 744.5 409Q742 413 737 412.5L733 420L727.5 429L711 438"/>
<ellipse cx="739.5" cy="407.5" rx="2.8" ry="2.2"/>
<path d="M746 409.5L770 396"/>
<path class="d" d="M717 400L727 416"/>
<path d="M705 370L712 385L716 381"/>
<!-- B group bottom -->
<ellipse cx="677" cy="596" rx="10" ry="6.5"/><ellipse cx="677" cy="596" rx="5" ry="3"/>
<path d="M672 614.500Q671 611 675 611M677 618Q673 618 672.5 615M679 611Q683 611 683.5 614M684 615.500Q684 618.500 680 618.500M676 611.500L678 617.500"/>
<path class="b" d="M673 629L673 645M681 629L681 645M673 629Q677 625 681 629M673 634L681 635M673 638.500L681 639.500"/>
<path d="M669 647Q669 644 677 644Q685 644 685 647L685 652Q685 656 677 656Q669 656 669 652ZM669 649.500Q677 653 685 649.500"/>
<path class="s" d="M620.500 597L666 597M620.500 597L620.500 647.500L668.700 647.500"/><path class="d" d="M621 614.500L670 614.500"/>
<path d="M597.500 623L620 623"/>
<path class="t" d="M652 597L666 597M654 614.500L668 614.500M655 647.500L668 647.500"/>
<path d="M670 591L672 586L678.700 584.500L684 586"/><path class="d" d="M684 586L743.700 605"/>
<!-- PLATE not for sale -->
<path d="M730 526L785 533.700Q800 537 812.500 543.700L848 561Q853 565 852.500 570Q852 577 848.700 581Q843 588 835 590Q828 592 822.500 591L800 586Q792 584.500 785 587.500Q779 591 775 596Q770 600 763 599.500Q754 599 747.500 597.500L733 592Q728 590 727.500 583.700Q729 576 735 571.500Q736.500 568 733.700 566L713 557.500Q707 554 707.500 548Q709 541 713 536.500Q720 527 730 526Z"/>
<path d="M707.500 550L707.500 556L733 567M727.500 586L728 591L741 604.500L748.500 605.500L748.500 599"/>
<path class="b" d="M748.500 599Q758 603 766 602.500Q773 601 778 595.500M852 574Q850 582 846 586Q840 592 832 593.500L822 594"/>
<ellipse cx="780.500" cy="557.500" rx="24" ry="13"/>
<path class="b" d="M759 553Q761 548 770 546M793 546.500Q801 549 803 554"/>
<g transform="rotate(10 752.500 585.500)"><rect x="738.500" y="581.500" width="28" height="7.500" rx="3.700"/><path d="M742 586.500L763 586.500"/></g>
<g transform="rotate(-32 835 576)"><rect x="823" y="572.500" width="24" height="7" rx="3.500"/><path d="M826 577.500L844 577.500"/></g>
<path d="M852.500 569L893.700 569"/><path class="t" d="M862 569L868 569"/>
<!-- 14 washer + bushing -->
<ellipse cx="780.500" cy="615" rx="24.500" ry="12.500"/><ellipse cx="780.500" cy="615" rx="12" ry="6.500"/>
<path d="M756 617Q758 630 780.500 631Q803 630 805 617M770 617Q774 613 781 613Q788 613 791 616"/>
<ellipse cx="780" cy="646" rx="18" ry="10.500"/><ellipse cx="780" cy="645.500" rx="12" ry="6.800"/>
<path d="M762 646L762 677.500Q764 686 780 687Q796 686 798 677.500L798 646"/>
<path d="M787 641.500Q791 643 790 648"/>
<path d="M765 657.500L743.700 668.500L722 680.500Q720 682 721 685Q723 687 725 686L746 673.500M743.700 668.500L746 673.500M722 680.500L725 686M762 654L766 655L766 660"/>
<path d="M740 680L746 684.500Q752 689 760 690"/><path class="b" d="M760 690L870.500 689.500L870.500 612.500L806 612.500"/>
<path d="M800 655.700L885 655.700"/>
<path class="t" d="M806 612.500L818 612.500M800 655.700L812 655.700M742 681.500L748 685.500"/>
</g><g class="n">
<text x="562" y="442.700" textLength="13" lengthAdjust="spacingAndGlyphs">13</text>
<text x="587.500" y="629" textLength="7.500" lengthAdjust="spacingAndGlyphs">B</text>
<text x="888.700" y="660.200" textLength="12" lengthAdjust="spacingAndGlyphs">14</text>
<text x="900" y="571.200" textLength="118" lengthAdjust="spacingAndGlyphs" style="font-size:13.4px;font-weight:bold;stroke-width:0" xml:space="preserve">NOT  FOR  SALE</text>
</g><g fill="none" stroke="#161616" stroke-width="1.45" stroke-linecap="round" stroke-linejoin="round">

</g>
</svg>
</body></html>
